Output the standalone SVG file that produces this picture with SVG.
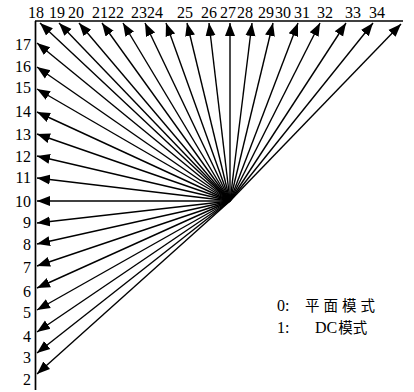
<svg xmlns="http://www.w3.org/2000/svg" width="414" height="392" viewBox="0 0 414 392">
<style>
.num{font-family:'Liberation Serif','DejaVu Serif',serif;font-size:16px;fill:#000}
.lft{text-anchor:end}
.top{text-anchor:middle}
.leg{font-family:'Liberation Serif','DejaVu Serif',serif;font-size:16px;fill:#000}
.cjk{font-family:'Noto Sans CJK SC',sans-serif;font-size:14.5px;fill:#000}
.ax{stroke:#000;stroke-width:1.7;fill:none}
.ar{stroke:#000;stroke-width:1.4;fill:none;marker-end:url(#ah)}
</style>
<defs>
<marker id="ah" markerUnits="userSpaceOnUse" markerWidth="15" markerHeight="12" refX="13" refY="6" orient="auto">
<path d="M0,1 L13,6 L0,11 Z" fill="#000"/>
</marker>
</defs>
<rect width="414" height="392" fill="#fff"/>
<g id="axes">
<line class="ax" x1="35" y1="21" x2="403" y2="21"/>
<line class="ax" x1="35.5" y1="21" x2="35.5" y2="390"/>
</g>
<g id="connectors">
<line class="ar" x1="230" y1="201" x2="40" y2="23"/>
<line class="ar" x1="230" y1="201" x2="59" y2="23"/>
<line class="ar" x1="230" y1="201" x2="79" y2="23"/>
<line class="ar" x1="230" y1="201" x2="102" y2="23"/>
<line class="ar" x1="230" y1="201" x2="123" y2="23"/>
<line class="ar" x1="230" y1="201" x2="145" y2="23"/>
<line class="ar" x1="230" y1="201" x2="166" y2="23"/>
<line class="ar" x1="230" y1="201" x2="187" y2="23"/>
<line class="ar" x1="230" y1="201" x2="209" y2="23"/>
<line class="ar" x1="230" y1="201" x2="230" y2="23"/>
<line class="ar" x1="230" y1="201" x2="252" y2="23"/>
<line class="ar" x1="230" y1="201" x2="273" y2="23"/>
<line class="ar" x1="230" y1="201" x2="298" y2="23"/>
<line class="ar" x1="230" y1="201" x2="320" y2="23"/>
<line class="ar" x1="230" y1="201" x2="346" y2="23"/>
<line class="ar" x1="230" y1="201" x2="373" y2="23"/>
<line class="ar" x1="230" y1="201" x2="401" y2="24"/>
<line class="ar" x1="230" y1="201" x2="37" y2="43"/>
<line class="ar" x1="230" y1="201" x2="37" y2="67"/>
<line class="ar" x1="230" y1="201" x2="37" y2="89"/>
<line class="ar" x1="230" y1="201" x2="37" y2="112"/>
<line class="ar" x1="230" y1="201" x2="37" y2="134"/>
<line class="ar" x1="230" y1="201" x2="37" y2="156"/>
<line class="ar" x1="230" y1="201" x2="37" y2="178"/>
<line class="ar" x1="230" y1="201" x2="37" y2="201"/>
<line class="ar" x1="230" y1="201" x2="37" y2="223"/>
<line class="ar" x1="230" y1="201" x2="37" y2="244"/>
<line class="ar" x1="230" y1="201" x2="37" y2="266"/>
<line class="ar" x1="230" y1="201" x2="37" y2="288"/>
<line class="ar" x1="230" y1="201" x2="37" y2="310"/>
<line class="ar" x1="230" y1="201" x2="37" y2="332"/>
<line class="ar" x1="230" y1="201" x2="37" y2="353"/>
<line class="ar" x1="230" y1="201" x2="37" y2="374"/>
</g>
<g id="mode-18"><text class="num top" x="36" y="18">18</text></g>
<g id="mode-19"><text class="num top" x="57" y="18">19</text></g>
<g id="mode-20"><text class="num top" x="76" y="18">20</text></g>
<g id="mode-21"><text class="num top" x="100" y="18">21</text></g>
<g id="mode-22"><text class="num top" x="116" y="18">22</text></g>
<g id="mode-23"><text class="num top" x="139" y="18">23</text></g>
<g id="mode-24"><text class="num top" x="155" y="18">24</text></g>
<g id="mode-25"><text class="num top" x="185" y="18">25</text></g>
<g id="mode-26"><text class="num top" x="209" y="18">26</text></g>
<g id="mode-27"><text class="num top" x="228" y="18">27</text></g>
<g id="mode-28"><text class="num top" x="245" y="18">28</text></g>
<g id="mode-29"><text class="num top" x="266" y="18">29</text></g>
<g id="mode-30"><text class="num top" x="283" y="18">30</text></g>
<g id="mode-31"><text class="num top" x="302" y="18">31</text></g>
<g id="mode-32"><text class="num top" x="325" y="18">32</text></g>
<g id="mode-33"><text class="num top" x="353" y="18">33</text></g>
<g id="mode-34"><text class="num top" x="377" y="18">34</text></g>
<g id="mode-17"><text class="num lft" x="31" y="50">17</text></g>
<g id="mode-16"><text class="num lft" x="31" y="72">16</text></g>
<g id="mode-15"><text class="num lft" x="31" y="93">15</text></g>
<g id="mode-14"><text class="num lft" x="31" y="117">14</text></g>
<g id="mode-13"><text class="num lft" x="31" y="140">13</text></g>
<g id="mode-12"><text class="num lft" x="31" y="162">12</text></g>
<g id="mode-11"><text class="num lft" x="31" y="183">11</text></g>
<g id="mode-10"><text class="num lft" x="31" y="207">10</text></g>
<g id="mode-9"><text class="num lft" x="31" y="228">9</text></g>
<g id="mode-8"><text class="num lft" x="31" y="250">8</text></g>
<g id="mode-7"><text class="num lft" x="31" y="273">7</text></g>
<g id="mode-6"><text class="num lft" x="31" y="297">6</text></g>
<g id="mode-5"><text class="num lft" x="31" y="318">5</text></g>
<g id="mode-4"><text class="num lft" x="31" y="342">4</text></g>
<g id="mode-3"><text class="num lft" x="31" y="363">3</text></g>
<g id="mode-2"><text class="num lft" x="31" y="385">2</text></g>
<g id="legend">
<text class="leg" x="277" y="311">0:</text>
<text class="cjk" x="305" y="311" textLength="70" lengthAdjust="spacing">平面模式</text>
<text class="leg" x="277" y="333">1:</text>
<text class="leg" x="315" y="333">DC<tspan class="cjk" dx="1">模式</tspan></text>
</g>
</svg>
